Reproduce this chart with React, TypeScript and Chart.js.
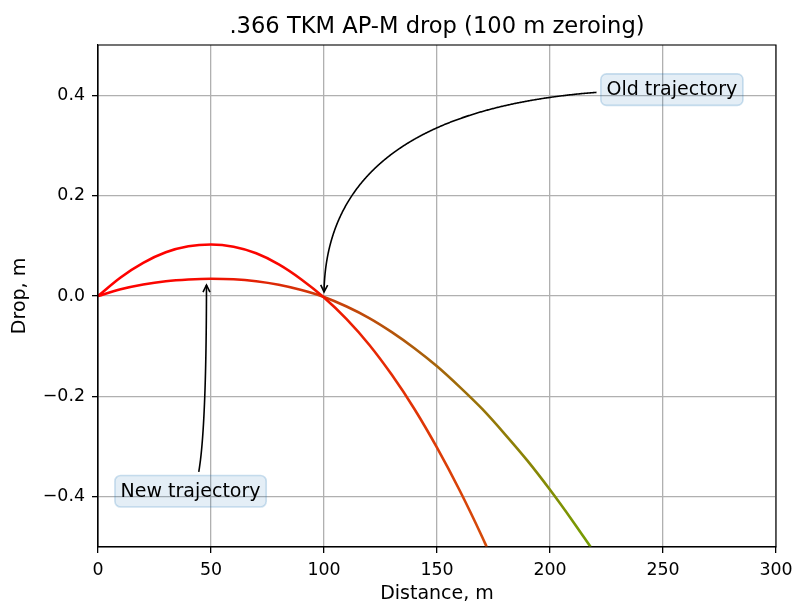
import React, { useEffect, useRef } from 'react';
import { Chart, registerables } from 'chart.js';

Chart.register(...registerables);

// ---- data ----
const OLD_DIST = [0, 10, 20, 30, 40, 50, 60, 70, 80, 90, 100, 110, 120, 130, 140, 150, 160, 170, 172];
const OLD_DROP = [0, 0.037, 0.066, 0.087, 0.099, 0.1025, 0.098, 0.085, 0.063, 0.033, -0.003, -0.046, -0.097, -0.157, -0.225, -0.302, -0.387, -0.48, -0.5];

const NEW_DIST = [0, 10, 20, 30, 40, 50, 60, 70, 80, 90, 100, 110, 120, 130, 140, 150, 160, 170, 180, 190, 200, 210, 218];
const NEW_DROP = [0, 0.0135, 0.023, 0.0295, 0.033, 0.0345, 0.0335, 0.0295, 0.0225, 0.012, -0.002, -0.021, -0.044, -0.072, -0.104, -0.14, -0.181, -0.225, -0.275, -0.328, -0.386, -0.448, -0.5];

const X_TICKS = [0, 50, 100, 150, 200, 250, 300];
const Y_TICKS = [-0.4, -0.2, 0.0, 0.2, 0.4];

const TITLE = '.366 TKM AP-M drop (100 m zeroing)';
const X_LABEL = 'Distance, m';
const Y_LABEL = 'Drop, m';

// annotations: text anchor (data coords, baseline-left) and arrow tip (data coords)
const ANN_TEXT = ['Old trajectory', 'New trajectory'];
const ANN_TEXT_X = [225, 10];
const ANN_TEXT_Y = [0.4, -0.4];
const ANN_TIP_X = [100, 48];
const ANN_TIP_Y = [0, 0.03];

// colour stops along distance for each curve [distance, r, g, b]
const OLD_COLOR_STOPS: number[][] = [
  [0, 255, 0, 0],
  [80, 250, 5, 0],
  [100, 240, 22, 0],
  [130, 228, 45, 5],
  [172, 212, 75, 10],
];
const NEW_COLOR_STOPS: number[][] = [
  [0, 255, 0, 0],
  [40, 248, 8, 0],
  [100, 205, 60, 10],
  [150, 165, 100, 10],
  [200, 130, 140, 5],
  [218, 118, 158, 2],
];

const FONT = '"DejaVu Sans", "Liberation Sans", sans-serif';
const FS_TICK = 17.4;
const FS_LABEL = 19;
const FS_ANN = 19;
const FS_TITLE = 22.6;

function gradientFor(chart: any, stops: number[][]) {
  const area = chart.chartArea;
  const xs = chart.scales?.x;
  if (!area || !xs) return `rgb(${stops[0][1]},${stops[0][2]},${stops[0][3]})`;
  const x0 = xs.getPixelForValue(xs.min);
  const x1 = xs.getPixelForValue(xs.max);
  const g = chart.ctx.createLinearGradient(x0, 0, x1, 0);
  const span = xs.max - xs.min;
  stops.forEach((s) => {
    const f = Math.min(1, Math.max(0, (s[0] - xs.min) / span));
    g.addColorStop(f, `rgb(${s[1]},${s[2]},${s[3]})`);
  });
  const last = stops[stops.length - 1];
  g.addColorStop(1, `rgb(${last[1]},${last[2]},${last[3]})`);
  return g;
}

const framePlugin = {
  id: 'frame',
  afterDatasetsDraw(chart: any) {
    const { ctx, chartArea: a } = chart;
    ctx.save();
    ctx.strokeStyle = '#000';
    ctx.lineWidth = 1.1;
    ctx.strokeRect(a.left, a.top, a.right - a.left, a.bottom - a.top);
    ctx.restore();
  },
};

// axes title, centred over the plot area (like matplotlib)
const axesTitlePlugin = {
  id: 'axesTitle',
  afterDraw(chart: any) {
    const { ctx, chartArea: a } = chart;
    ctx.save();
    ctx.font = `${FS_TITLE}px ${FONT}`;
    ctx.fillStyle = '#000';
    ctx.textAlign = 'center';
    ctx.textBaseline = 'alphabetic';
    ctx.fillText(TITLE, (a.left + a.right) / 2, a.top - 12);
    ctx.restore();
  },
};

const annotationPlugin = {
  id: 'arrowAnnotations',
  afterDraw(chart: any) {
    const { ctx } = chart;
    const xs = chart.scales.x;
    const ys = chart.scales.y;
    const FS = FS_ANN;
    ctx.save();
    ctx.font = `${FS}px ${FONT}`;
    ANN_TEXT.forEach((text, i) => {
      const tx = xs.getPixelForValue(ANN_TEXT_X[i]);
      const ty = ys.getPixelForValue(ANN_TEXT_Y[i]);
      const w = ctx.measureText(text).width;
      const pad = 0.3 * FS;
      const bx0 = tx - pad;
      const bx1 = tx + w + pad;
      const by0 = ty - 0.928 * FS - pad + 2;
      const by1 = ty + 0.236 * FS + pad;
      const ax = (bx0 + bx1) / 2;
      const ay = (by0 + by1) / 2;
      const bx = xs.getPixelForValue(ANN_TIP_X[i]);
      const by = ys.getPixelForValue(ANN_TIP_Y[i]);
      // angle3, angleA=0, angleB=90 -> control point
      const cx = bx;
      const cy = ay;
      const shrink = 3.5;
      const pts: number[][] = [];
      for (let k = 0; k <= 600; k++) {
        const t = k / 600;
        const px = (1 - t) * (1 - t) * ax + 2 * t * (1 - t) * cx + t * t * bx;
        const py = (1 - t) * (1 - t) * ay + 2 * t * (1 - t) * cy + t * t * by;
        if (px > bx0 - shrink && px < bx1 + shrink && py > by0 - shrink && py < by1 + shrink) continue;
        if (Math.hypot(px - bx, py - by) < shrink) break;
        pts.push([px, py]);
      }
      if (pts.length > 4) {
        ctx.strokeStyle = '#000';
        ctx.lineWidth = 1.6;
        ctx.beginPath();
        ctx.moveTo(pts[0][0], pts[0][1]);
        for (let k = 1; k < pts.length; k++) ctx.lineTo(pts[k][0], pts[k][1]);
        ctx.stroke();
        const [ex, ey] = pts[pts.length - 1];
        const [qx, qy] = pts[pts.length - 5];
        const len = Math.hypot(ex - qx, ey - qy) || 1;
        const dx = (ex - qx) / len;
        const dy = (ey - qy) / len;
        const hl = 0.4 * FS_TICK;
        const hw = 0.2 * FS_TICK;
        ctx.beginPath();
        ctx.moveTo(ex - dx * hl - dy * hw, ey - dy * hl + dx * hw);
        ctx.lineTo(ex, ey);
        ctx.lineTo(ex - dx * hl + dy * hw, ey - dy * hl - dx * hw);
        ctx.stroke();
      }
      // box
      ctx.beginPath();
      (ctx as any).roundRect(bx0, by0, bx1 - bx0, by1 - by0, pad);
      ctx.fillStyle = 'rgba(31,119,180,0.12)';
      ctx.fill();
      ctx.strokeStyle = 'rgba(31,119,180,0.22)';
      ctx.lineWidth = 1.6;
      ctx.stroke();
      ctx.fillStyle = '#000';
      ctx.textBaseline = 'alphabetic';
      ctx.textAlign = 'left';
      ctx.fillText(text, tx, ty);
    });
    ctx.restore();
  },
};

function fmtY(v: number) {
  const s = Math.abs(v).toFixed(1);
  return v < -1e-9 ? '\u2212' + s : s;
}

export default function App() {
  const ref = useRef<HTMLCanvasElement | null>(null);

  useEffect(() => {
    if (!ref.current) return;
    const chart = new Chart(ref.current, {
      type: 'line',
      data: {
        datasets: [
          {
            label: 'Old trajectory',
            data: OLD_DIST.map((d, i) => ({ x: d, y: OLD_DROP[i] })),
            borderColor: (c: any) => gradientFor(c.chart, OLD_COLOR_STOPS),
            borderWidth: 2.6,
            pointRadius: 0,
            cubicInterpolationMode: 'monotone',
            fill: false,
            clip: 0,
          },
          {
            label: 'New trajectory',
            data: NEW_DIST.map((d, i) => ({ x: d, y: NEW_DROP[i] })),
            borderColor: (c: any) => gradientFor(c.chart, NEW_COLOR_STOPS),
            borderWidth: 2.6,
            pointRadius: 0,
            cubicInterpolationMode: 'monotone',
            fill: false,
            clip: 0,
          },
        ],
      },
      options: {
        animation: false,
        responsive: false,
        events: [],
        layout: { padding: { left: 0, right: 16, top: 45, bottom: 0 } },
        plugins: {
          legend: { display: false },
          tooltip: { enabled: false },
          title: { display: false },
        },
        scales: {
          x: {
            type: 'linear',
            min: 0,
            max: 300,
            afterBuildTicks: (s: any) => {
              s.ticks = X_TICKS.map((v) => ({ value: v }));
            },
            afterFit: (s: any) => {
              s.height = 57;
              s.paddingLeft = 0;
              s.paddingRight = 0;
            },
            ticks: {
              color: '#000',
              font: { family: FONT, size: FS_TICK },
              padding: 7,
              maxRotation: 0,
              autoSkip: false,
              callback: (v: any) => String(v),
            },
            grid: {
              color: '#b0b0b0',
              lineWidth: 1.3,
              tickColor: '#000',
              tickLength: 6,
              drawTicks: true,
            },
            border: { display: true, color: '#000', width: 1.1 },
            title: {
              display: true,
              text: X_LABEL,
              color: '#000',
              font: { family: FONT, size: FS_LABEL, lineHeight: 1.0 },
              padding: { top: 0, bottom: 0 },
            },
          },
          y: {
            type: 'linear',
            min: -0.5,
            max: 0.5,
            afterBuildTicks: (s: any) => {
              s.ticks = Y_TICKS.map((v) => ({ value: v }));
            },
            afterFit: (s: any) => {
              s.width = 98;
              s.paddingTop = 0;
              s.paddingBottom = 0;
            },
            ticks: {
              color: '#000',
              font: { family: FONT, size: FS_TICK },
              padding: 7,
              autoSkip: false,
              callback: (v: any) => fmtY(Number(v)),
            },
            grid: {
              color: '#b0b0b0',
              lineWidth: 1.3,
              tickColor: '#000',
              tickLength: 6,
              drawTicks: true,
            },
            border: { display: true, color: '#000', width: 1.1 },
            title: {
              display: true,
              text: Y_LABEL,
              color: '#000',
              font: { family: FONT, size: FS_LABEL, lineHeight: 1.0 },
              padding: { top: 11, bottom: 0 },
            },
          },
        },
      } as any,
      plugins: [framePlugin, axesTitlePlugin, annotationPlugin],
    });
    return () => chart.destroy();
  }, []);

  return (
    <div style={{ position: 'absolute', left: 0, top: 0, width: 792, height: 604, background: '#fff' }}>
      <canvas ref={ref} width={792} height={604} />
    </div>
  );
}
